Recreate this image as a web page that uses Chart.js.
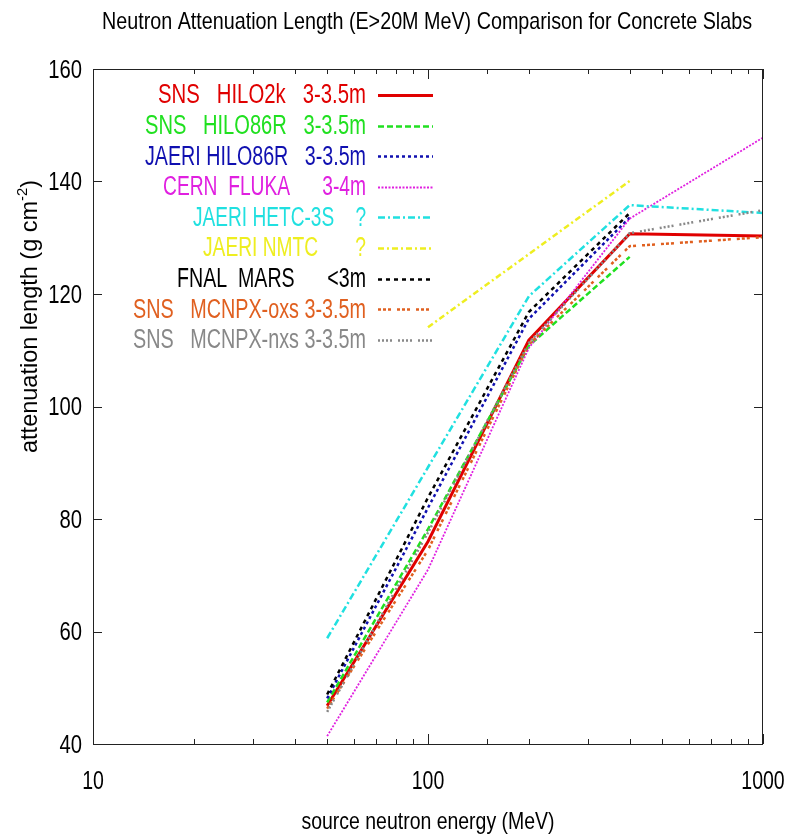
<!DOCTYPE html>
<html><head><meta charset="utf-8">
<script src="https://cdn.jsdelivr.net/npm/chart.js@4/dist/chart.umd.min.js"></script>
<style>html,body{margin:0;padding:0;background:#fff}#wrap{width:787px;height:836px}</style>
</head><body><div id="wrap"><canvas id="c" width="787" height="836"></canvas></div>
<script>
// ---------------- data ----------------
const TITLE = 'Neutron Attenuation Length (E>20M MeV) Comparison for Concrete Slabs';
const X_TITLE = 'source neutron energy (MeV)';
const Y_TITLE = 'attenuation length (g cm';
const Y_TITLE_SUP = '-2';
const ENERGY = [50, 100, 200, 400, 1000];           // MeV
const X_TICKS = [10, 100, 1000];
const Y_TICKS = [40, 60, 80, 100, 120, 140, 160];
const LEGEND_LABELS = [
  'SNS   HILO2k   3-3.5m',
  'SNS   HILO86R   3-3.5m',
  'JAERI HILO86R   3-3.5m',
  'CERN  FLUKA      3-4m',
  'JAERI HETC-3S    ?',
  'JAERI NMTC       ?',
  'FNAL  MARS      <3m',
  'SNS   MCNPX-oxs 3-3.5m',
  'SNS   MCNPX-nxs 3-3.5m'
];
const SNS_HILO2K    = [46.8, 76.0, 111.8, 130.7, 130.3];
const SNS_HILO86R   = [47.4, 78.2, 110.8, 126.6, null];
const JAERI_HILO86R = [48.1, 82.0, 115.6, 133.6, null];
const CERN_FLUKA    = [41.4, 71.0, 110.4, 133.4, 147.8];
const JAERI_HETC3S  = [58.8, 89.2, 119.6, 135.8, 134.4];
const JAERI_NMTC    = [null, 114.1, 127.1, 140.1, null];
const FNAL_MARS     = [48.8, 83.8, 116.8, 134.4, null];
const SNS_MCNPX_OXS = [46.3, 74.5, 111.0, 128.5, 130.1];
const SNS_MCNPX_NXS = [45.7, 77.6, 111.3, 130.8, 134.9];

const SERIES_VALUES = [SNS_HILO2K, SNS_HILO86R, JAERI_HILO86R, CERN_FLUKA, JAERI_HETC3S,
                       JAERI_NMTC, FNAL_MARS, SNS_MCNPX_OXS, SNS_MCNPX_NXS];

// ---------------- styles ----------------
const STYLES = [
  {color:'#e00000', dash:[],              width:3},
  {color:'#20e020', dash:[6,3],           width:2.5},
  {color:'#1010b0', dash:[3,3],           width:2.5},
  {color:'#e020e0', dash:[2,1.5],         width:1.8},
  {color:'#20e0e0', dash:[7,3,2,3],       width:2.5},
  {color:'#eeee20', dash:[6,3,2,3],       width:2.5},
  {color:'#000000', dash:[4,4],           width:2.5},
  {color:'#e06020', dash:[3,2,3,2,3,6],   width:2.5},
  {color:'#888888', dash:[2,2,2,2,2,2,2,6], width:2.5}
];

const datasets = SERIES_VALUES.map((vals, i) => ({
  label: LEGEND_LABELS[i],
  data: ENERGY.map((e, k) => ({x: e, y: vals[k]})).filter(p => p.y !== null),
  borderColor: STYLES[i].color,
  backgroundColor: STYLES[i].color,
  borderDash: STYLES[i].dash,
  borderWidth: STYLES[i].width,
  pointRadius: 0,
  tension: 0,
  fill: false,
  order: 9 - i
}));

const FONT = '"Liberation Sans", Arial, Helvetica, sans-serif';
function drawFit(ctx, text, x, y, align, opt) {
  ctx.save();
  ctx.font = opt.size + 'px ' + FONT;
  const w = ctx.measureText(text).width;
  const sx = opt.width ? opt.width / w : (opt.sx || 1);
  ctx.translate(x, y);
  ctx.scale(sx, 1);
  ctx.textAlign = align;
  ctx.textBaseline = opt.baseline || 'middle';
  ctx.fillStyle = opt.color || '#000';
  ctx.fillText(text, 0, 0);
  ctx.restore();
}

const decor = {
  id: 'decor',
  afterDatasetsDraw(chart) {
    const ctx = chart.ctx, a = chart.chartArea;
    const xs = chart.scales.x, ys = chart.scales.y;
    ctx.save();
    // frame
    ctx.strokeStyle = '#222'; ctx.lineWidth = 1; ctx.setLineDash([]);
    ctx.strokeRect(Math.round(a.left) + 0.5, Math.round(a.top) + 0.5,
                   Math.round(a.right - a.left) - 1, Math.round(a.bottom - a.top));
    // x ticks (inward, mirrored)
    ctx.beginPath();
    xs.ticks.forEach(t => {
      const v = t.value;
      const major = Math.abs(Math.log10(v) - Math.round(Math.log10(v))) < 1e-9;
      const len = major ? 10 : 5;
      const px = Math.round(xs.getPixelForValue(v)) + 0.5;
      ctx.moveTo(px, a.bottom); ctx.lineTo(px, a.bottom - len);
      ctx.moveTo(px, a.top); ctx.lineTo(px, a.top + len);
    });
    // y ticks
    Y_TICKS.forEach(v => {
      const py = Math.round(ys.getPixelForValue(v)) + 0.5;
      ctx.moveTo(a.left, py); ctx.lineTo(a.left + 9, py);
      ctx.moveTo(a.right, py); ctx.lineTo(a.right - 9, py);
    });
    ctx.stroke();
    // tick labels
    Y_TICKS.forEach(v => {
      drawFit(ctx, String(v), a.left - 11, ys.getPixelForValue(v) + 2, 'right', {size: 25, sx: 0.81});
    });
    X_TICKS.forEach(v => {
      drawFit(ctx, String(v), xs.getPixelForValue(v), a.bottom + 38, 'center', {size: 25, sx: 0.78});
    });
    // titles
    drawFit(ctx, TITLE, (a.left + a.right) / 2 - 1, 29, 'center', {size: 24, width: 650, baseline: 'alphabetic'});
    drawFit(ctx, X_TITLE, (a.left + a.right) / 2, 829, 'center', {size: 24, width: 253, baseline: 'alphabetic'});
    // y title rotated with superscript
    ctx.save();
    ctx.translate(37, 453);
    ctx.rotate(-Math.PI / 2);
    ctx.font = '24px ' + FONT;
    const w1 = ctx.measureText(Y_TITLE).width;
    ctx.font = '15px ' + FONT;
    const w2 = ctx.measureText(Y_TITLE_SUP).width;
    ctx.font = '24px ' + FONT;
    const w3 = ctx.measureText(')').width;
    const sx = 273 / (w1 + w2 + w3);
    ctx.scale(sx, 1);
    ctx.fillStyle = '#000'; ctx.textAlign = 'left'; ctx.textBaseline = 'alphabetic';
    ctx.fillText(Y_TITLE, 0, 0);
    ctx.font = '15px ' + FONT;
    ctx.fillText(Y_TITLE_SUP, w1, -10);
    ctx.font = '24px ' + FONT;
    ctx.fillText(')', w1 + w2, 0);
    ctx.restore();
    // legend
    const lefts = [158, 145, 145, 163, 193, 203, 177, 133, 133];
    LEGEND_LABELS.forEach((lab, i) => {
      const y = 95 + i * 30.6;
      drawFit(ctx, lab, 366, y + 1, 'right', {size: 27, width: 366 - lefts[i], color: STYLES[i].color});
      ctx.beginPath();
      ctx.strokeStyle = STYLES[i].color;
      ctx.lineWidth = STYLES[i].width;
      ctx.setLineDash(STYLES[i].dash);
      ctx.moveTo(378, Math.round(y) + 0.5); ctx.lineTo(433, Math.round(y) + 0.5);
      ctx.stroke();
    });
    ctx.restore();
  }
};

new Chart(document.getElementById('c'), {
  type: 'line',
  data: {datasets},
  options: {
    responsive: false,
    devicePixelRatio: 1,
    animation: false,
    layout: {padding: {top: 69, right: 24, bottom: 0, left: 0}},
    plugins: {legend: {display: false}, title: {display: false}, tooltip: {enabled: false}},
    scales: {
      x: {
        type: 'logarithmic', min: 10, max: 1000,
        grid: {display: false}, border: {display: false},
        ticks: {display: false},
        afterFit: s => { s.height = 92; }
      },
      y: {
        type: 'linear', min: 40, max: 160,
        grid: {display: false}, border: {display: false},
        ticks: {display: false, stepSize: 20},
        afterFit: s => { s.width = 93; }
      }
    }
  },
  plugins: [decor]
});
</script>
</body></html>
